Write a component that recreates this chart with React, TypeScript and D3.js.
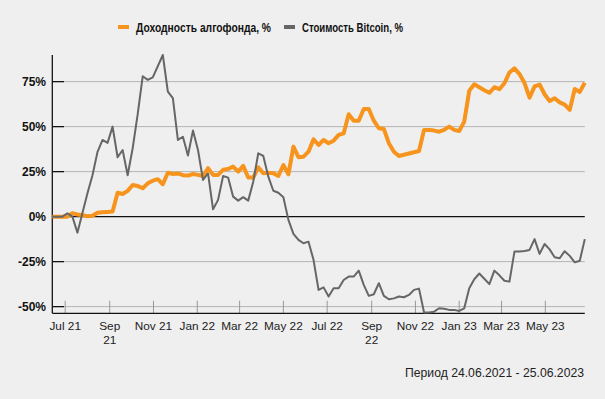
import React from "react";
import * as d3 from "d3";

// ---- data (weekly index since 13.06.2021) ----
const fundWeeks = [0,3,4,5,6,7,8,9,10,11,12,13,14,15,16,17,18,19,20,21,22,23,24,25,26,27,28,29,30,31,32,33,34,35,36,37,38,39,40,41,42,43,44,45,46,47,48,49,50,51,52,53,54,55,56,57,58,59,60,61,62,63,64,65,66,67,68,69,73,74,75,76,77,78,79,80,81,82,83,84,85,86,87,88,89,90,91,92,93,94,95,96,97,98,99,100,101,102,103,104,105,106];
const fundValues = [0,0,1.9,1.2,0.8,0.2,0.5,2.2,2.4,2.6,2.8,13.3,12.6,14.3,17.6,17,15.8,18.5,20,20.8,18,24.4,23.7,24,23,22.8,23.7,23.2,22.6,26.9,23.2,23.2,26,26.5,27.8,25,28.2,21.7,21.7,27.4,24.1,24.4,24.1,22.6,28.7,23.5,38.9,33,33.3,36.1,43,39.8,42.6,40.8,42.2,45.4,46.3,56.9,53.3,53.3,59.8,59.8,53.3,49.1,48.7,40.8,36.1,33.7,36.5,48.2,48.2,47.8,47.2,48.2,50,48.2,47.6,52.8,69.9,73.5,71.9,70.2,68.8,71.9,70.8,74.1,80.1,82.4,79.2,74.2,66.1,72.4,73.4,68,64.2,65.8,63.5,62.2,59.3,70.9,69.3,74.4];

const btcWeeks = [0,2,3,4,5,6,7,8,9,10,11,12,13,14,15,16,17,18,19,20,22,23,24,25,26,27,28,29,30,31,32,33,34,35,36,37,38,39,40,41,42,43,44,45,46,47,48,49,50,51,52,53,54,55,56,57,58,59,60,61,62,63,64,65,66,67,68,69,70,71,72,73,74,75,76,77,78,79,80,81,82,83,84,85,86,87,88,89,90,91,92,93,94,95,96,97,98,99,100,101,102,103,104,105,106];
const btcValues = [0,0,1.9,0,-8.9,2,13,23,36,42.6,41,50,33,37,23,38,57,78,76,77.4,89.8,69.4,65.8,42.6,44.4,34,47.8,37,20.4,24,4.1,9.3,22.6,21.7,11.1,8.9,10.8,8.9,19.4,35.2,33.7,22.2,14.4,13.3,10.8,-1.8,-9.6,-12.9,-14.8,-13.9,-24,-40.7,-39.3,-44.4,-39.8,-39.8,-35.2,-33.3,-33.3,-30,-37.9,-44,-43.1,-37,-44,-45.9,-45.4,-44.4,-44.8,-43.5,-40.7,-40,-53.3,-53.3,-52.8,-50.9,-51.2,-51.8,-51.8,-52.4,-50.9,-39.8,-34.8,-31.6,-34.5,-37.5,-30,-32.6,-35.6,-36.1,-19.4,-19.4,-19.1,-18.5,-12.5,-20.7,-15.2,-18.2,-22.6,-23.1,-19.2,-21.8,-25.4,-24.5,-12.5];

const yTicks = [75, 50, 25, 0, -25, -50];
const xTickLabels = [["Jul 21"], ["Sep", "21"], ["Nov 21"], ["Jan 22"], ["Mar 22"], ["May 22"], ["Jul 22"], ["Sep", "22"], ["Nov 22"], ["Jan 23"], ["Mar 23"], ["May 23"]];
const seriesNames = ["Доходность алгофонда, %", "Стоимость Bitcoin, %"];
const footerText = "Период 24.06.2021 - 25.06.2023";

const START = new Date(2021, 5, 13);
const END = new Date(2023, 5, 25);

const W = 605, H = 399;
const X0 = 52.3, X1 = 584.8, YT = 55, YB = 313.3;
const ORANGE = "#f7941d";
const GRAY = "#666666";

export default function App() {
  const x = d3.scaleTime().domain([START, END]).range([X0, X1]);
  const y = d3.scaleLinear().domain([-53.7, 89.8]).range([YB, YT]);
  const weekDate = (w: number) => d3.timeDay.offset(START, 7 * w);

  const line = d3
    .line<[number, number]>()
    .x((d) => x(weekDate(d[0])))
    .y((d) => y(d[1]));

  const fund = fundWeeks.map((w, i) => [w, fundValues[i]] as [number, number]);
  const btc = btcWeeks.map((w, i) => [w, btcValues[i]] as [number, number]);
  const xTicks = x.ticks(d3.timeMonth.every(2) as any).filter((d) => d >= new Date(2021, 6, 1));

  const font = "'Liberation Sans', Arial, sans-serif";
  const narrow = "'Liberation Sans Narrow', 'Arial Narrow', 'Liberation Sans', sans-serif";

  return (
    <svg
      width={W}
      height={H}
      style={{ position: "fixed", left: 0, top: 0, background: "#efefef" }}
      fontFamily={font}
    >
      <rect x={0} y={0} width={W} height={H} fill="#efefef" />
      {/* legend */}
      <rect x={118} y={25} width={11} height={4} fill={ORANGE} />
      <text x={136} y={31.5} fontSize={13.5} fontWeight="bold" fill="#111" fontFamily={narrow}
        textLength={135} lengthAdjust="spacingAndGlyphs">{seriesNames[0]}</text>
      <rect x={284} y={25} width={11} height={4} fill={GRAY} />
      <text x={302} y={31.5} fontSize={13.5} fontWeight="bold" fill="#111" fontFamily={narrow}
        textLength={101} lengthAdjust="spacingAndGlyphs">{seriesNames[1]}</text>

      {/* grid */}
      {yTicks.map((t) => (
        <g key={t}>
          <line x1={64} x2={X1} y1={y(t)} y2={y(t)} stroke={t === 0 ? "#111" : "#b4b4b4"} strokeWidth={t === 0 ? 1.3 : 1} />
          <line x1={X0} x2={64} y1={y(t)} y2={y(t)} stroke="#111" strokeWidth={1.3} />
          <text x={46} y={y(t)} dy="0.35em" textAnchor="end" fontSize={12} fontWeight="bold" fill="#111">{`${t}%`}</text>
        </g>
      ))}

      {/* x ticks */}
      {xTicks.map((d, i) => (
        <g key={i}>
          <line x1={x(d)} x2={x(d)} y1={300.7} y2={YB} stroke="#999" strokeWidth={1} />
          {(xTickLabels[i] || []).map((s, j) => (
            <text key={j} x={x(d)} y={330 + j * 13.5} textAnchor="middle" fontSize={11.8} fill="#222">{s}</text>
          ))}
        </g>
      ))}

      {/* axes */}
      <line x1={X0} x2={X0} y1={YT} y2={YB} stroke="#111" strokeWidth={1.3} />
      <line x1={X0} x2={X1} y1={YB} y2={YB} stroke="#111" strokeWidth={1.3} />

      {/* series */}
      <path d={line(fund) || ""} fill="none" stroke={ORANGE} strokeWidth={4} strokeLinejoin="round" />
      <path d={line(btc) || ""} fill="none" stroke={GRAY} strokeWidth={2} strokeLinejoin="round" />

      <text x={584} y={376.5} textAnchor="end" fontSize={12.2} fill="#222">{footerText}</text>
    </svg>
  );
}
